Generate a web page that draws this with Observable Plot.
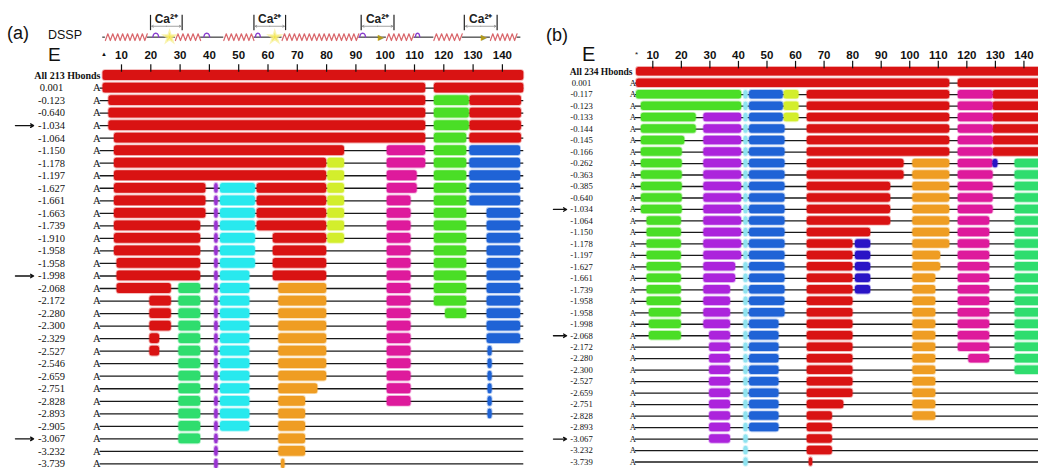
<!DOCTYPE html>
<html><head><meta charset="utf-8">
<script src="https://cdn.jsdelivr.net/npm/d3@7"></script>
<script src="https://cdn.jsdelivr.net/npm/@observablehq/plot@0.6"></script>
<style>
html,body{margin:0;padding:0;background:#fff;overflow:hidden}
#wrap{position:relative;width:1038px;height:468px;}
.lab{position:absolute;font-family:"Liberation Sans",Arial,sans-serif;color:#111;line-height:1;white-space:nowrap}
</style></head><body>
<div id="wrap">
 <div id="pa" style="position:absolute;left:0;top:0;width:530px;height:468px"></div>
 <div id="pb" style="position:absolute;left:530px;top:0;width:508px;height:468px"></div>
 <div class="lab" style="left:7px;top:24px;font-size:18px">(a)</div>
 <div class="lab" style="left:48px;top:29px;font-size:12.5px">DSSP</div>
 <div class="lab" style="left:48px;top:45px;font-size:19px">E</div>
 <div class="lab" style="left:546px;top:26px;font-size:18px">(b)</div>
 <div class="lab" style="left:582px;top:44px;font-size:20px">E</div>
</div>
<script>
// ---------- data ----------
const rowsA = ["All 213 Hbonds","0.001","-0.123","-0.640","-1.034","-1.064","-1.150","-1.178","-1.197","-1.627","-1.661","-1.663","-1.739","-1.910","-1.958","-1.958","-1.998","-2.068","-2.172","-2.280","-2.300","-2.329","-2.527","-2.546","-2.659","-2.751","-2.828","-2.893","-2.905","-3.067","-3.232","-3.739"];
const rowsB = ["All 234 Hbonds","0.001","-0.117","-0.123","-0.133","-0.144","-0.145","-0.166","-0.262","-0.363","-0.385","-0.640","-1.034","-1.064","-1.150","-1.178","-1.197","-1.627","-1.661","-1.739","-1.958","-1.958","-1.998","-2.068","-2.172","-2.280","-2.300","-2.527","-2.659","-2.751","-2.828","-2.893","-3.067","-3.232","-3.739"];
const residueTicks = [10,20,30,40,50,60,70,80,90,100,110,120,130,140];

// segments: [firstRow, lastRow, startResidue, endResidue]
const aRed = [[0,0,3.7,147.3],[1,1,3.7,113.8],[1,1,116.8,147.3],[2,4,5.7,113.8],[2,5,128.9,146.5],[5,5,7.6,113.8],[6,6,7.6,86.1],[7,8,7.6,80],[9,11,7.6,38.8],[12,14,7.6,37],[15,16,8.5,37],[17,17,8.5,27],[18,20,19.7,27],[21,22,19.7,23],[9,12,56.3,80],[13,16,61.8,80]];
const aLime = [[2,4,116.8,128.7],[5,18,116.8,127.8],[19,19,120.6,127.8]];
const aYellow = [[7,13,80.4,86.1]];
const aMagenta = [[6,7,100.7,113.8],[8,9,100.7,110.9],[10,26,100.7,108.8]];
const aBlue = [[6,10,128.9,146.2],[11,21,134.8,146.2],[22,27,135.1,136.5]];
const aCyan = [[9,15,43.8,55.7],[16,28,43.8,53.8]];
const aViolet = [[9,31,41.8,43.0]];
const aSpring = [[17,29,29.6,37]];
const aOrange = [[17,24,63.7,80],[25,25,63.7,77],[26,30,63.7,72.8],[31,31,64.6,65.8]];

const bRed = [[0,0,4.3,150],[1,1,4.3,114],[1,1,117,150],[2,7,64.1,114],[2,7,129.2,150],[8,9,64.1,98],[10,13,64.1,93.3],[14,14,64.1,86.3],[15,28,64.1,80.1],[29,29,64.1,76.9],[30,33,64.1,72.9],[34,34,64.8,66]];
const bLime = [[2,2,4.3,41.1],[3,3,6,41.1],[4,5,6,25.2],[6,6,6,21.2],[7,12,6,20.3],[13,20,8,20],[21,23,8.8,20]];
const bYellow = [[2,4,56,61.2]];
const bCyan = [[2,34,41.9,43.4]];
const bBlue = [[2,4,43.9,55.7],[5,21,43.9,56.3],[22,31,43.9,54.2]];
const bViolet = [[4,16,27.9,41.1],[17,18,27.9,39],[19,22,27.9,37.2],[23,32,29.9,37.2]];
const bOrange = [[8,15,101.1,114],[16,17,101.1,110.8],[18,30,101.1,109.1]];
const bMagenta = [[2,12,117,129.2],[13,24,117,128],[25,25,120.7,128]];
const bNavy = [[8,8,129.2,130.9],[15,19,81,86.3]];
const bSpring = [[8,26,136.9,150]];

const arrowRowsA = [4,16,29];
const arrowRowsB = [12,23,32];

// DSSP secondary structure (panel a), residue ranges
const helicesA = [[4.5,18.8],[28.4,37],[44.9,55.2],[64.8,91],[100.4,109.8],[116.6,126.3],[135.9,145]];
const loopsA = [[20.7,22.7],[38.1,40.1],[55.7,57.4],[91.3,93.3],[110.3,111.8]];
const caStarsA = [26.4,62.3];
const caArrowsA = [98.4,133.7];
const caSitesA = [[19.9,30.7],[55.2,66],[91.8,103],[127,138.2]];

// ---------- styles ----------
const C = {red:"#d91313", lime:"#4ade26", spring:"#2fdd6e", violet:"#9a34d2", purple:"#ac24dc",
  cyan:"#28e9ee", lcyan:"#8fe3f0", blue:"#1f63d6", ygreen:"#d3ee2c", magenta:"#de1a9c",
  orange:"#ef9d23", navy:"#2a14c6"};

const expand = (arr, c) => arr.flatMap(([r0,r1,s,e]) => d3.range(r0, r1+1).map(row => ({row, s, e, c})));

function panel(o) {
  const segs = o.segs.flatMap(([a,c]) => expand(a,c));
  const rowIdx = d3.range(1, o.rows.length);
  const labelData = o.rows.map((t,i)=>({t,i}));
  const marks = [
    Plot.ruleY(rowIdx, {y: d=>d, x1: ()=>o.lineX1, x2: ()=>o.lineX2, stroke:"#1a1a1a", strokeWidth:1.3, clip:o.clip}),
    Plot.rect(segs, {x1:"s", x2:"e", y1:d=>d.row-o.half, y2:d=>d.row+o.half, fill:"c", stroke:"c",
      strokeWidth:1.8, strokeOpacity:0.35, rx:2.5, clip:o.clip}),
    Plot.text(labelData.slice(1), {y:"i", text:"t", frameAnchor:"left", dx:o.labelDx, textAnchor:"middle",
      fontFamily:"Liberation Serif, Times New Roman, serif", fontSize:o.labelSize, fill:"#111"}),
    Plot.text(labelData.slice(0,1), {y:"i", text:"t", frameAnchor:"left", dx:o.allDx, textAnchor:"end",
      fontFamily:"Liberation Serif, Times New Roman, serif", fontWeight:"bold", fontSize:o.allSize, fill:"#111"}),
    Plot.text(rowIdx, {x:()=>o.aX, y:d=>d, text:()=>"A", fontFamily:"Liberation Serif, Times New Roman, serif",
      fontSize:o.labelSize, fill:"#111"}),
    Plot.ruleX(residueTicks, {x:d=>d, y1:()=>o.tickY1, y2:()=>o.tickY2, stroke:"#111", strokeWidth:1.2}),
    Plot.text(residueTicks, {x:d=>d, y:()=>o.tickLabelY, text:d=>String(d), fontWeight:"bold", fontSize:11.5, fill:"#111"}),
    Plot.text([o.startX], {x:d=>d, y:()=>o.tickLabelY - 0.1, text:()=>o.startGlyph, fontSize:o.startSize, fill:"#111"}),
    Plot.arrow(o.arrowRows, {x1:()=>o.arrowX1, x2:()=>o.arrowX2, y1:d=>d, y2:d=>d, stroke:"#111", strokeWidth:1.3, headLength:4})
  ];
  return Plot.plot({
    width:o.width, height:468,
    marginLeft:o.ml, marginRight:o.mr, marginTop:0, marginBottom:0,
    x:{domain:o.xDomain, range:o.xRange, axis:null},
    y:{domain:o.yDomain, range:o.yRange, axis:null},
    color:{type:"identity"},
    style:{fontFamily:"Liberation Sans, Arial, sans-serif", background:"transparent"},
    marks:[...marks, ...(o.extra||[])]
  });
}

// DSSP cartoon marks for panel (a)
const dsspY = -3.06, amp = 0.27;
const helixPts = helicesA.flatMap(([s,e],h) => {
  const n = Math.max(2, Math.round((e-s)/0.85));
  return d3.range(n+1).map(k => ({h, x:s + k*(e-s)/n, y:dsspY + (k%2 ? -amp : amp)}));
});
const coils = [[3.6, helicesA[0][0]], ...helicesA.slice(0,-1).map((h,i)=>[h[1], helicesA[i+1][0]]), [helicesA[helicesA.length-1][1], 146.3]];
const loopPts = loopsA.flatMap(([s,e],i)=>{
  const w=e-s;
  return [[s,dsspY],[s+0.12*w,dsspY-0.32],[e-0.12*w,dsspY-0.32],[e,dsspY]].map(([x,y])=>({i,x,y}));
});
const dsspMarks = [
  Plot.ruleY(coils, {y:()=>dsspY, x1:d=>d[0], x2:d=>d[1], stroke:"#3a3a3a", strokeWidth:1.2}),
  Plot.line(helixPts, {x:"x", y:"y", z:"h", stroke:"#d9676c", strokeWidth:1.2}),
  Plot.line(loopPts, {x:"x", y:"y", z:"i", stroke:"#8a3fcf", strokeWidth:1.4, curve:"basis"}),
  Plot.dot(caStarsA, {x:d=>d, y:()=>dsspY, symbol:"star", r:3, fill:"#f0dc1c", stroke:"#f7ef90", strokeWidth:2.5, strokeOpacity:0.7}),
  Plot.text(caArrowsA, {x:d=>d, y:()=>dsspY, text:()=>"▶", fontSize:8, fill:"#b09a1c"}),
  Plot.ruleX(caSitesA.flat(), {x:d=>d, y1:()=>-4.8, y2:()=>-3.58, stroke:"#222", strokeWidth:1.2}),
  Plot.arrow(caSitesA.flatMap(([s,e])=>[{a:(s+e)/2,b:s+0.4},{a:(s+e)/2,b:e-0.4}]),
    {x1:"a", x2:"b", y1:()=>-3.93, y2:()=>-3.93, stroke:"#8a8a8a", strokeWidth:0.8, headLength:3.5}),
  Plot.text(caSitesA, {x:d=>(d[0]+d[1])/2, y:()=>-4.5, text:()=>"Ca²⁺", fontWeight:"bold", fontSize:12, fill:"#222"})
];

document.getElementById("pa").append(panel({
  rows: rowsA, width:530, ml:91.7, mr:4.66,
  xDomain:[0,148], xRange:[91.7,525.34],
  yDomain:[-5.2,31.5], yRange:[75-5.2*12.53, 75+31.5*12.53],
  half:0.39, lineX1:2.7, lineX2:147.3, aX:1.6,
  labelDx:-40.7, allDx:8.3, labelSize:10.5, allSize:10,
  tickY1:-0.85, tickY2:-0.26, tickLabelY:-1.6,
  startX:4.0, startGlyph:"▲", startSize:6,
  arrowRows: arrowRowsA, arrowX1:-26.2, arrowX2:-20,
  clip:false,
  segs:[[aRed,C.red],[aLime,C.lime],[aYellow,C.ygreen],[aMagenta,C.magenta],[aBlue,C.blue],
        [aCyan,C.cyan],[aViolet,C.violet],[aSpring,C.spring],[aOrange,C.orange]],
  extra: dsspMarks
}));

document.getElementById("pb").append(panel({
  rows: rowsB, width:508, ml:93.75, mr:0,
  xDomain:[0,145.1], xRange:[93.75,508],
  yDomain:[-6,34.5], yRange:[71.2-6*11.48, 71.2+34.5*11.48],
  half:0.37, lineX1:3.9, lineX2:150, aX:3.0,
  labelDx:-42.75, allDx:8.25, labelSize:8.7, allSize:9.5,
  tickY1:-0.9, tickY2:-0.25, tickLabelY:-1.41,
  startX:4.3, startGlyph:"*", startSize:8,
  arrowRows: arrowRowsB, arrowX1:-24.8, arrowX2:-20.2,
  clip:true,
  segs:[[bRed,C.red],[bLime,C.lime],[bYellow,C.ygreen],[bCyan,C.lcyan],[bBlue,C.blue],[bViolet,C.purple],
        [bOrange,C.orange],[bMagenta,C.magenta],[bNavy,C.navy],[bSpring,C.spring]]
}));
</script>
</body></html>
